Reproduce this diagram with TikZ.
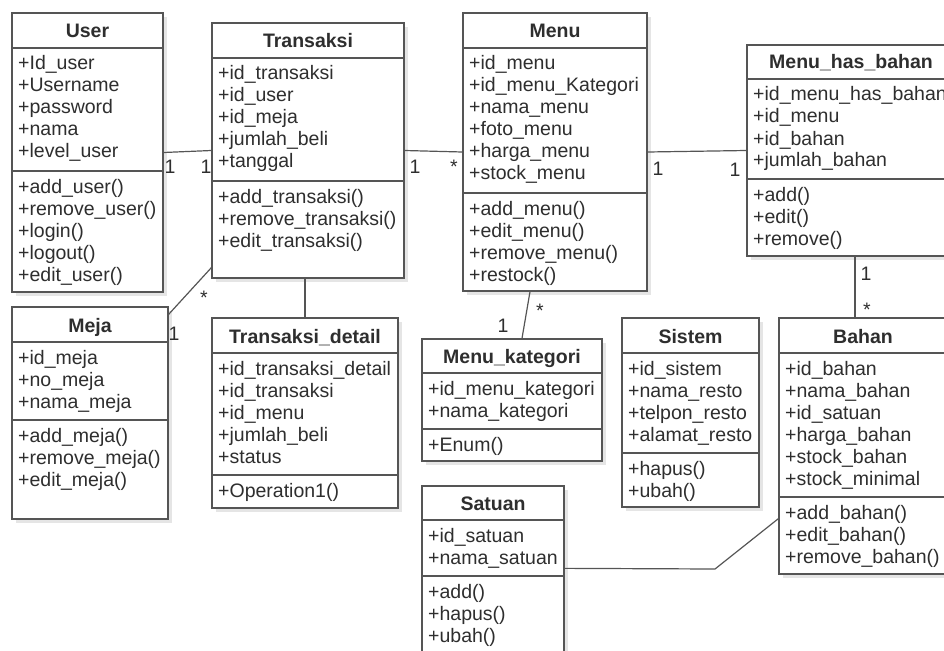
\documentclass[tikz,border=0pt]{standalone}
\usepackage{fontspec}
\setmainfont{Liberation Sans}
\usetikzlibrary{fit,shadows}

\definecolor{umlline}{HTML}{555555}
\definecolor{umltext}{HTML}{2E2E2E}

\newcommand\umlfont{\fontsize{19.5}{22}\selectfont}

\tikzset{
  classbox/.style={draw=umlline, line width=1.3pt, fill=white, inner sep=0pt,
    drop shadow={shadow xshift=4pt, shadow yshift=-4pt, opacity=0.10, fill=black}},
  compline/.style={draw=umlline, line width=1.3pt},
  classtitle/.style={anchor=base, inner sep=0pt, text=umltext, font=\umlfont\bfseries},
  members/.style={anchor=base west, inner sep=0pt, text=umltext, font=\umlfont},
  mult/.style={anchor=base, inner sep=0pt, text=umltext, font=\umlfont},
  assoc/.style={draw=umlline, line width=1.2pt},
}

% [title shift]{name}{left}{top}{right}{bottom}{header line}{separator line}{title}
\newcommand\umlclass[9][0pt]{%
  \node[classbox, fit={(#3,#4) (#5,#6)}] (#2) {};
  \draw[compline] (#3,#7) -- (#5,#7);
  \draw[compline] (#3,#8) -- (#5,#8);
  \coordinate (#2-h) at (#3,#7);
  \coordinate (#2-s) at (#3,#8);
  \node[classtitle, xshift=#1] (#2-t) at ({(#3+#5)/2},{#7-10}) {#9};
}
% {name}{attributes}{operations}
\newcommand\umlbody[3]{%
  \node[members] (#1-a) at ([shift={(6,22)}]#1-h)
    {\begin{tabular}[t]{@{}l@{}}#2\end{tabular}};
  \node[members] (#1-m) at ([shift={(6,22)}]#1-s)
    {\begin{tabular}[t]{@{}l@{}}#3\end{tabular}};
}

\begin{document}
\begin{tikzpicture}[x=1pt,y=-1pt]
\useasboundingbox (0,0) rectangle (944,650);
\clip (0,0) rectangle (944,650);

% classes
\umlclass{user}{12}{13}{163}{292}{48}{171}{User}
\umlbody{user}{+Id\_user\\+Username\\+password\\+nama\\+level\_user}
  {+add\_user()\\+remove\_user()\\+login()\\+logout()\\+edit\_user()}

\umlclass{trans}{212}{23}{404}{278}{58}{181}{Transaksi}
\umlbody{trans}{+id\_transaksi\\+id\_user\\+id\_meja\\+jumlah\_beli\\+tanggal}
  {+add\_transaksi()\\+remove\_transaksi()\\+edit\_transaksi()}

\umlclass{menu}{463}{13}{647}{291}{48}{193}{Menu}
\umlbody{menu}{+id\_menu\\+id\_menu\_Kategori\\+nama\_menu\\+foto\_menu\\+harga\_menu\\+stock\_menu}
  {+add\_menu()\\+edit\_menu()\\+remove\_menu()\\+restock()}

\umlclass[-4pt]{mhb}{747}{45}{963}{256}{79}{179}{Menu\_has\_bahan}
\umlbody{mhb}{+id\_menu\_has\_bahan\\+id\_menu\\+id\_bahan\\+jumlah\_bahan}
  {+add()\\+edit()\\+remove()}

\umlclass{meja}{12}{307}{168}{519}{342}{420}{Meja}
\umlbody{meja}{+id\_meja\\+no\_meja\\+nama\_meja}
  {+add\_meja()\\+remove\_meja()\\+edit\_meja()}

\umlclass{tdet}{212}{318}{398}{508}{353}{475}{Transaksi\_detail}
\umlbody{tdet}{+id\_transaksi\_detail\\+id\_transaksi\\+id\_menu\\+jumlah\_beli\\+status}
  {+Operation1()}

\umlclass{mkat}{422}{339}{602}{461}{373}{429}{Menu\_kategori}
\umlbody{mkat}{+id\_menu\_kategori\\+nama\_kategori}
  {+Enum()}

\umlclass{sistem}{622}{318}{759}{507}{353}{453}{Sistem}
\umlbody{sistem}{+id\_sistem\\+nama\_resto\\+telpon\_resto\\+alamat\_resto}
  {+hapus()\\+ubah()}

\umlclass{bahan}{779}{318}{947}{574}{353}{497}{Bahan}
\umlbody{bahan}{+id\_bahan\\+nama\_bahan\\+id\_satuan\\+harga\_bahan\\+stock\_bahan\\+stock\_minimal}
  {+add\_bahan()\\+edit\_bahan()\\+remove\_bahan()}

\umlclass{satuan}{422}{486}{564}{660}{520}{576}{Satuan}
\umlbody{satuan}{+id\_satuan\\+nama\_satuan}
  {+add()\\+hapus()\\+ubah()}

% associations
\draw[assoc] (user.east) -- (trans.west);
\draw[assoc] (trans.east) -- (menu.west);
\draw[assoc] (menu.east) -- (mhb.west);
\draw[assoc] (mhb.south) -- (mhb.south |- bahan.north);
\draw[assoc] ([xshift=-25pt]menu.south) -- ([xshift=10pt]mkat.north);
\draw[assoc] (tdet.north) -- (tdet.north |- trans.south);
\draw[assoc] ([yshift=11pt]trans.south west) -- ([yshift=-8pt]meja.north east);
\coordinate (bend) at (715,569);
\draw[assoc] ([yshift=-83pt]satuan.north east) -- (bend) -- ([yshift=56pt]bahan.south west);

% multiplicities
\node[mult] (m-ut1) at (170,173) {1};
\node[mult] (m-ut2) at (206,173) {1};
\node[mult] (m-tm1) at (415,173) {1};
\node[mult] (m-tm2) at (454,173) {*};
\node[mult] (m-mh1) at (658,175) {1};
\node[mult] (m-mh2) at (735,176) {1};
\node[mult] (m-hb1) at (866,280) {1};
\node[mult] (m-hb2) at (867,316) {*};
\node[mult] (m-mk1) at (540,317) {*};
\node[mult] (m-mk2) at (503,332) {1};
\node[mult] (m-tj1) at (204,304) {*};
\node[mult] (m-tj2) at (174,340) {1};
\end{tikzpicture}
\end{document}
